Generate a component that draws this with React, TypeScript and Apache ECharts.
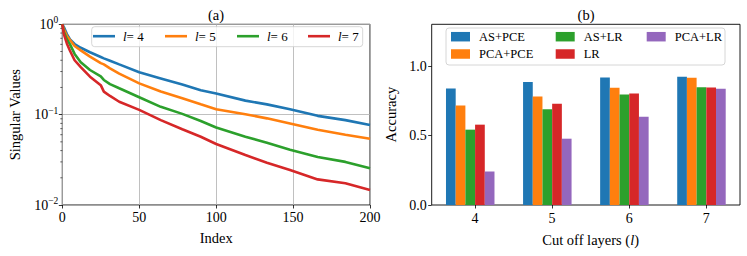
import React, { useEffect, useRef } from "react";
import * as echarts from "echarts";

// ---------- Data ----------
const INDEX = [0, 1, 3, 5, 8, 12, 18, 25, 27, 31, 37, 50, 64, 78, 90, 100, 119, 133, 148, 166, 184, 200];
const SV_L4 = [1.0, 0.93, 0.78, 0.68, 0.605, 0.55, 0.49, 0.435, 0.42, 0.395, 0.36, 0.295, 0.252, 0.215, 0.186, 0.171, 0.143, 0.13, 0.115, 0.097, 0.087, 0.077];
const SV_L5 = [1.0, 0.88, 0.74, 0.67, 0.575, 0.515, 0.438, 0.372, 0.36, 0.326, 0.285, 0.222, 0.18, 0.152, 0.13, 0.115, 0.101, 0.091, 0.08, 0.068, 0.06, 0.054];
const SV_L6 = [1.0, 0.82, 0.68, 0.6, 0.47, 0.38, 0.312, 0.265, 0.242, 0.218, 0.196, 0.156, 0.122, 0.102, 0.085, 0.072, 0.057, 0.049, 0.041, 0.034, 0.03, 0.0255];
const SV_L7 = [1.0, 0.78, 0.61, 0.51, 0.4, 0.335, 0.263, 0.212, 0.18, 0.161, 0.139, 0.113, 0.087, 0.069, 0.057, 0.0473, 0.0357, 0.0294, 0.0244, 0.0192, 0.0174, 0.0147];
const LAYER_LABELS = ["4", "5", "6", "7"];
const SV_SERIES = [SV_L4, SV_L5, SV_L6, SV_L7];
const MINOR_TICKS = [0.02, 0.03, 0.04, 0.05, 0.06, 0.07, 0.08, 0.09, 0.2, 0.3, 0.4, 0.5, 0.6, 0.7, 0.8, 0.9];

const CATEGORIES = ["4", "5", "6", "7"];
const METHODS = ["AS+PCE", "PCA+PCE", "AS+LR", "LR", "PCA+LR"];
const ACC_AS_PCE = [0.839, 0.884, 0.918, 0.923];
const ACC_PCA_PCE = [0.716, 0.781, 0.843, 0.916];
const ACC_AS_LR = [0.542, 0.689, 0.795, 0.848];
const ACC_LR = [0.578, 0.728, 0.802, 0.846];
const ACC_PCA_LR = [0.241, 0.477, 0.634, 0.836];
const ACC_SERIES = [ACC_AS_PCE, ACC_PCA_PCE, ACC_AS_LR, ACC_LR, ACC_PCA_LR];
const Y_TICKS_B = [0, 0.5, 1.0];

const COLORS = ["#1f77b4", "#ff7f0e", "#2ca02c", "#d62728", "#9467bd"];
const FONT = "'Liberation Serif', 'DejaVu Serif', serif";

export default function App() {
  const ref = useRef<HTMLDivElement>(null);
  useEffect(() => {
    if (!ref.current) return;
    const chart = echarts.init(ref.current, undefined, { renderer: "svg" });

    const gA = { left: 62.3, top: 24.3, width: 307.7, height: 180.7 };
    const gB = { left: 431.7, top: 24.3, width: 308.3, height: 180.7 };
    const gridStyle = { show: true, borderColor: "#000", borderWidth: 0.9, backgroundColor: "transparent" };

    const tick = { show: true, length: 3.5, lineStyle: { color: "#000", width: 0.8 } };
    const lbl = { color: "#000", fontFamily: FONT, fontSize: 14 };

    const lineSeries = SV_SERIES.map((arr, k) => ({
      name: "l=" + LAYER_LABELS[k],
      type: "line",
      xAxisIndex: 0,
      yAxisIndex: 0,
      data: INDEX.map((x, j) => [x, arr[j]]),
      symbol: "none",
      showSymbol: false,
      lineStyle: { color: COLORS[k], width: 2.6 },
      itemStyle: { color: COLORS[k] },
      z: 3,
    }));

    const minorSeries = {
      type: "custom",
      xAxisIndex: 0,
      yAxisIndex: 0,
      clip: false,
      silent: true,
      data: MINOR_TICKS.map((v) => [0, v]),
      renderItem: (params: any, api: any) => {
        const p = api.coord([0, api.value(1)]);
        return {
          type: "line",
          shape: { x1: p[0] - 2, y1: p[1], x2: p[0], y2: p[1] },
          style: { stroke: "#000", lineWidth: 0.6 },
        };
      },
    };

    const barSeries = ACC_SERIES.map((arr, k) => ({
      name: METHODS[k],
      type: "bar",
      xAxisIndex: 1,
      yAxisIndex: 1,
      data: arr,
      barWidth: 9.7,
      barGap: "0%",
      itemStyle: { color: COLORS[k] },
    }));

    const legendA = LAYER_LABELS.map((lab, k) => ({
      data: ["l=" + lab],
      left: [93, 165, 237, 308][k],
      top: 29.7,
      padding: 0,
      z: 20,
      itemWidth: 22,
      itemHeight: 14,
      icon: "path://M0,0L22,0L22,2.6L0,2.6Z",
      itemStyle: { color: COLORS[k] },
      formatter: () => "{i|l}= " + lab,
      textStyle: {
        color: "#000",
        fontFamily: FONT,
        fontSize: 13,
        padding: [0, 0, 0, 3],
        rich: { i: { fontStyle: "italic", fontFamily: FONT, fontSize: 13, color: "#000" } },
      },
    }));

    const colsB = [
      { data: ["AS+PCE", "PCA+PCE"], left: 451 },
      { data: ["AS+LR", "LR"], left: 555.7 },
      { data: ["PCA+LR"], left: 646.7 },
    ];
    const legendB = colsB.map((c) => ({
      data: c.data,
      orient: "vertical",
      left: c.left,
      top: 29.7,
      padding: 0,
      z: 20,
      itemWidth: 19,
      itemHeight: 9.5,
      itemGap: 3.3,
      icon: "rect",
      textStyle: { color: "#000", fontFamily: FONT, fontSize: 12.5, lineHeight: 14, padding: [0, 0, 0, 4] },
    }));

    chart.setOption({
      animation: false,
      grid: [
        { ...gA, ...gridStyle },
        { ...gB, ...gridStyle },
        { left: gB.left + 4.8, top: gB.top, width: gB.width, height: gB.height, show: false },
      ],
      xAxis: [
        {
          type: "value",
          gridIndex: 0,
          min: 0,
          max: 200,
          interval: 50,
          axisLine: { show: false },
          axisTick: tick,
          axisLabel: { ...lbl, margin: 5 },
          splitLine: { show: true, lineStyle: { color: "#b0b0b0", width: 0.8 } },
          name: "Index",
          nameLocation: "middle",
          nameGap: 25,
          nameTextStyle: { ...lbl, fontSize: 14.5 },
        },
        {
          type: "category",
          gridIndex: 1,
          data: CATEGORIES,
          axisLine: { show: false },
          axisTick: { show: false },
          axisLabel: { show: false },
        },
        {
          type: "category",
          gridIndex: 2,
          data: CATEGORIES,
          axisLine: { show: false },
          axisTick: { ...tick, alignWithLabel: true },
          axisLabel: { ...lbl, margin: 6 },
          name: "Cut off layers ({i|l})",
          nameLocation: "middle",
          nameGap: 27,
          nameTextStyle: {
            ...lbl,
            fontSize: 14.5,
            rich: { i: { fontStyle: "italic", fontFamily: FONT, fontSize: 14.5, color: "#000" } },
          },
        },
      ],
      yAxis: [
        {
          type: "log",
          gridIndex: 0,
          logBase: 10,
          min: 0.01,
          max: 1,
          axisLine: { show: false },
          axisTick: tick,
          axisLabel: {
            ...lbl,
            margin: 4,
            formatter: (v: number) => {
              const e = Math.round(Math.log10(v));
              return "10{s|" + (e === 0 ? "0" : "\u2212" + -e) + "}";
            },
            rich: { s: { fontSize: 9.5, fontFamily: FONT, color: "#000", padding: [0, 0, 8, 0] } },
          },
          splitLine: { show: true, lineStyle: { color: "#b0b0b0", width: 0.8 } },
          name: "Singular Values",
          nameLocation: "middle",
          nameGap: 40,
          nameTextStyle: { ...lbl, fontSize: 14.5 },
        },
        {
          type: "value",
          gridIndex: 1,
          min: 0,
          max: 1.3,
          axisLine: { show: false },
          axisTick: { ...tick, customValues: Y_TICKS_B },
          axisLabel: { ...lbl, margin: 5, customValues: Y_TICKS_B, formatter: (v: number) => v.toFixed(1) },
          splitLine: { show: false },
          name: "Accuracy",
          nameLocation: "middle",
          nameGap: 33,
          nameTextStyle: { ...lbl, fontSize: 14.5 },
        },
        { type: "value", gridIndex: 2, show: false, min: 0, max: 1.3 },
      ],
      legend: [...legendA, ...legendB],
      graphic: [
        {
          type: "rect",
          z: 4,
          shape: { x: 91.7, y: 26.7, width: 271, height: 20, r: 3 },
          style: { fill: "rgba(255,255,255,0.8)", stroke: "#cccccc", lineWidth: 0.8 },
        },
        {
          type: "rect",
          z: 4,
          shape: { x: 446, y: 28, width: 279, height: 37, r: 3 },
          style: { fill: "rgba(255,255,255,0.8)", stroke: "#cccccc", lineWidth: 0.8 },
        },
        {
          type: "text",
          x: 216,
          y: 15,
          style: { text: "(a)", font: "14.5px " + FONT, fill: "#000", textAlign: "center", textVerticalAlign: "middle" },
        },
        {
          type: "text",
          x: 586,
          y: 15,
          style: { text: "(b)", font: "14.5px " + FONT, fill: "#000", textAlign: "center", textVerticalAlign: "middle" },
        },
      ],
      series: [...lineSeries, minorSeries, ...barSeries],
    } as any);

    return () => chart.dispose();
  }, []);

  return (
    <div
      ref={ref}
      style={{ position: "fixed", left: 0, top: 0, width: 747, height: 256, background: "#fff" }}
    />
  );
}
